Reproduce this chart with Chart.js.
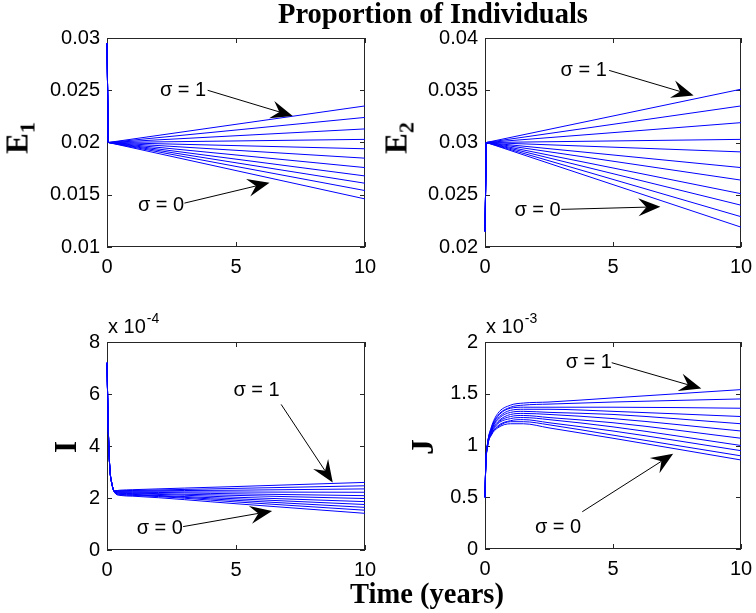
<!DOCTYPE html>
<html><head><meta charset="utf-8">
<script src="https://cdn.jsdelivr.net/npm/chart.js@4.4.1/dist/chart.umd.min.js"></script>
<style>
html,body{margin:0;padding:0;background:#fff;}
#fig{position:relative;width:756px;height:613px;overflow:hidden;background:#fff;}
canvas{position:absolute;}
.lbl{position:absolute;font-family:'Liberation Serif','Times New Roman',serif;font-weight:bold;font-size:28.5px;line-height:28px;color:#000;white-space:nowrap;transform:translateX(-50%);}
.ylab{position:absolute;font-family:'Liberation Serif','Times New Roman',serif;font-weight:bold;font-size:31px;line-height:31px;color:#000;transform:translate(-50%,-50%) rotate(-90deg);white-space:nowrap;}
.ylab sub{font-size:22px;vertical-align:-7px;line-height:0;}
</style></head><body>
<div id="fig">
<canvas id="cE1" width="378" height="290" style="left:0;top:0"></canvas>
<canvas id="cE2" width="378" height="290" style="left:378px;top:0"></canvas>
<canvas id="cI" width="378" height="323" style="left:0;top:290px"></canvas>
<canvas id="cJ" width="378" height="323" style="left:378px;top:290px"></canvas>
<div class="lbl" style="left:433px;top:0px">Proportion of Individuals</div>
<div class="lbl" style="left:427px;top:580px">Time (years)</div>
<div class="ylab" style="left:17px;top:138px">E<sub>1</sub></div>
<div class="ylab" style="left:396px;top:138px">E<sub>2</sub></div>
<div class="ylab" style="left:65px;top:447px">I</div>
<div class="ylab" style="left:422px;top:447px">J</div>
</div>
<script>
// ---------------- data ----------------
const sigmas = [0, 0.1, 0.2, 0.3, 0.4, 0.5, 0.6, 0.7, 0.8, 0.9, 1.0];
const xTicks = [0, 5, 10];

// E1 : times and one row per sigma (sigma = 0 ... 1)
const tE1 = [0, 0.05, 10];
const e1Values = [
  [0.0295, 0.0200, 0.0146],
  [0.0295, 0.0200, 0.0154],
  [0.0295, 0.0200, 0.0161],
  [0.0295, 0.0200, 0.0168],
  [0.0295, 0.0200, 0.0176],
  [0.0295, 0.0200, 0.0185],
  [0.0295, 0.0200, 0.0194],
  [0.0295, 0.0200, 0.0203],
  [0.0295, 0.0200, 0.0213],
  [0.0295, 0.0200, 0.0224],
  [0.0295, 0.0200, 0.0235]
];
const e1Ticks = [0.01, 0.015, 0.02, 0.025, 0.03];

// E2
const tE2 = [0, 0.05, 10];
const e2Values = [
  [0.0215, 0.0300, 0.0219],
  [0.0215, 0.0300, 0.0229],
  [0.0215, 0.0300, 0.0240],
  [0.0215, 0.0300, 0.0251],
  [0.0215, 0.0300, 0.0264],
  [0.0215, 0.0300, 0.0276],
  [0.0215, 0.0300, 0.0291],
  [0.0215, 0.0300, 0.0303],
  [0.0215, 0.0300, 0.0319],
  [0.0215, 0.0300, 0.0335],
  [0.0215, 0.0300, 0.0351]
];
const e2Ticks = [0.02, 0.025, 0.03, 0.035, 0.04];

// I (values in units of 1e-4)
const tI = [0, 0.05, 0.1, 0.2, 0.3, 0.5, 1, 5, 10];
const iValues = [
  [7.2, 4.7, 3.3, 2.5, 2.20, 2.10, 2.07, 1.78, 1.41],
  [7.2, 4.7, 3.3, 2.5, 2.21, 2.12, 2.10, 1.85, 1.53],
  [7.2, 4.7, 3.3, 2.5, 2.22, 2.14, 2.12, 1.91, 1.64],
  [7.2, 4.7, 3.3, 2.5, 2.22, 2.16, 2.14, 1.97, 1.75],
  [7.2, 4.7, 3.3, 2.5, 2.23, 2.18, 2.17, 2.03, 1.86],
  [7.2, 4.7, 3.3, 2.5, 2.24, 2.20, 2.19, 2.10, 1.98],
  [7.2, 4.7, 3.3, 2.5, 2.25, 2.22, 2.22, 2.16, 2.09],
  [7.2, 4.7, 3.3, 2.5, 2.25, 2.24, 2.24, 2.23, 2.22],
  [7.2, 4.7, 3.3, 2.5, 2.26, 2.26, 2.27, 2.30, 2.35],
  [7.2, 4.7, 3.3, 2.5, 2.27, 2.28, 2.29, 2.37, 2.47],
  [7.2, 4.7, 3.3, 2.5, 2.28, 2.30, 2.32, 2.44, 2.60]
];
const iTicks = [0, 2, 4, 6, 8];
const iExponent = '-4';

// J (values in units of 1e-3)
const tJ = [0, 0.03, 0.1, 0.25, 0.5, 1, 1.5, 2.5, 5, 10];
const jValues = [
  [0.50, 0.80, 0.99, 1.10, 1.17, 1.21, 1.21, 1.17, 1.07, 0.86],
  [0.50, 0.80, 0.99, 1.11, 1.18, 1.23, 1.23, 1.20, 1.10, 0.90],
  [0.50, 0.80, 1.00, 1.11, 1.19, 1.24, 1.25, 1.22, 1.14, 0.95],
  [0.50, 0.81, 1.00, 1.12, 1.21, 1.26, 1.27, 1.25, 1.18, 1.00],
  [0.50, 0.81, 1.00, 1.13, 1.22, 1.28, 1.29, 1.27, 1.22, 1.07],
  [0.50, 0.81, 1.01, 1.14, 1.23, 1.30, 1.31, 1.30, 1.26, 1.14],
  [0.50, 0.81, 1.01, 1.15, 1.25, 1.32, 1.33, 1.32, 1.30, 1.21],
  [0.50, 0.81, 1.01, 1.15, 1.26, 1.34, 1.35, 1.35, 1.33, 1.28],
  [0.50, 0.82, 1.02, 1.16, 1.28, 1.36, 1.37, 1.37, 1.37, 1.36],
  [0.50, 0.82, 1.02, 1.17, 1.29, 1.37, 1.39, 1.40, 1.42, 1.45],
  [0.50, 0.82, 1.02, 1.18, 1.31, 1.39, 1.41, 1.42, 1.46, 1.54]
];
const jTicks = [0, 0.5, 1, 1.5, 2];
const jExponent = '-3';

// annotations: label, text anchor (x,y), arrow from (x,y) to tip (x,y) in data units
const e1Notes = [
  {text:'σ = 1', tx:2.05, ty:0.0250, fx:3.9, fy:0.0250, px:7.2, py:0.02254},
  {text:'σ = 0', tx:1.2, ty:0.0140, fx:3.0, fy:0.0142, px:6.3, py:0.01615}
];
const e2Notes = [
  {text:'σ = 1', tx:2.95, ty:0.0369, fx:4.85, fy:0.0369, px:8.15, py:0.0345},
  {text:'σ = 0', tx:1.15, ty:0.0235, fx:2.98, fy:0.0236, px:6.85, py:0.02385}
];
const iNotes = [
  {text:'σ = 1', tx:4.9, ty:6.15, fx:6.75, fy:5.6, px:8.75, py:2.6},
  {text:'σ = 0', tx:1.15, ty:0.82, fx:2.95, fy:0.9, px:6.4, py:1.5}
];
const jNotes = [
  {text:'σ = 1', tx:3.15, ty:1.80, fx:4.95, fy:1.80, px:8.45, py:1.55},
  {text:'σ = 0', tx:1.95, ty:0.21, fx:3.8, fy:0.36, px:7.35, py:0.92}
];

// ---------------- drawing ----------------
const TICK_FONT = {family:"'Liberation Sans', Arial, sans-serif", size:20};

const matlabPlugin = {
  id: 'matlab',
  beforeDatasetsDraw(chart) {
    const ctx = chart.ctx, a = chart.chartArea;
    const xs = chart.scales.x, ys = chart.scales.y;
    ctx.save();
    ctx.strokeStyle = '#262626';
    ctx.lineWidth = 1;
    ctx.strokeRect(Math.round(a.left)+0.5, Math.round(a.top)+0.5, Math.round(a.right-a.left)-1, Math.round(a.bottom-a.top)-1);
    const L = 5;
    ctx.beginPath();
    xs.ticks.forEach(t => {
      const px = Math.round(xs.getPixelForValue(t.value)) + 0.5;
      ctx.moveTo(px, a.bottom); ctx.lineTo(px, a.bottom - L);
      ctx.moveTo(px, a.top); ctx.lineTo(px, a.top + L);
    });
    ys.ticks.forEach(t => {
      const py = Math.round(ys.getPixelForValue(t.value)) + 0.5;
      ctx.moveTo(a.left, py); ctx.lineTo(a.left + L, py);
      ctx.moveTo(a.right, py); ctx.lineTo(a.right - L, py);
    });
    ctx.stroke();
    ctx.restore();
  },
  afterDatasetsDraw(chart, args, opts) {
    const ctx = chart.ctx, a = chart.chartArea;
    const xs = chart.scales.x, ys = chart.scales.y;
    ctx.save();
    if (opts.exponent) {
      ctx.fillStyle = '#000';
      ctx.font = "20px 'Liberation Sans', Arial, sans-serif";
      ctx.textBaseline = 'alphabetic';
      ctx.textAlign = 'left';
      const base = 'x 10';
      ctx.fillText(base, a.left + 1, a.top - 9);
      const w = ctx.measureText(base).width;
      ctx.font = "14px 'Liberation Sans', Arial, sans-serif";
      ctx.fillText(opts.exponent, a.left + 1 + w + 1, a.top - 19);
    }
    (opts.notes || []).forEach(n => {
      ctx.fillStyle = '#000';
      ctx.strokeStyle = '#000';
      ctx.font = "20px 'Liberation Sans', Arial, sans-serif";
      ctx.textBaseline = 'middle';
      ctx.textAlign = 'left';
      ctx.fillText(n.text, xs.getPixelForValue(n.tx), ys.getPixelForValue(n.ty));
      const sx = xs.getPixelForValue(n.fx), sy = ys.getPixelForValue(n.fy);
      const tx = xs.getPixelForValue(n.px), ty = ys.getPixelForValue(n.py);
      const dx = tx - sx, dy = ty - sy, d = Math.hypot(dx, dy);
      const ux = dx / d, uy = dy / d, nx = -uy, ny = ux;
      const HL = 22, HW = 9, NOTCH = 14;
      const bx = tx - ux * HL, by = ty - uy * HL;
      const mx = tx - ux * NOTCH, my = ty - uy * NOTCH;
      ctx.lineWidth = 1;
      ctx.beginPath();
      ctx.moveTo(sx, sy); ctx.lineTo(mx, my);
      ctx.stroke();
      ctx.beginPath();
      ctx.moveTo(tx, ty);
      ctx.lineTo(bx + nx * HW, by + ny * HW);
      ctx.lineTo(mx, my);
      ctx.lineTo(bx - nx * HW, by - ny * HW);
      ctx.closePath();
      ctx.fill();
    });
    ctx.restore();
  }
};

function makeChart(id, times, rows, yMin, yMax, yTicks, pad, xHeight, notes, exponent, smooth) {
  const datasets = rows.map((row, k) => ({
    label: 'σ = ' + sigmas[k],
    data: row.map((v, i) => ({x: times[i], y: v})),
    borderColor: '#0000ff',
    borderWidth: 1,
    pointRadius: 0,
    fill: false,
    tension: 0,
    clip: {left: 2, top: 1, right: 0, bottom: 1},
    cubicInterpolationMode: smooth ? 'monotone' : 'default'
  }));
  return new Chart(document.getElementById(id), {
    type: 'line',
    data: {datasets},
    plugins: [matlabPlugin],
    options: {
      responsive: false,
      animation: false,
      devicePixelRatio: 1,
      layout: {padding: pad},
      plugins: {legend: {display: false}, tooltip: {enabled: false}, matlab: {notes, exponent}},
      scales: {
        x: {
          type: 'linear', min: 0, max: 10,
          grid: {display: false, drawTicks: false}, border: {display: false},
          ticks: {font: TICK_FONT, color: '#000', padding: 8, maxRotation: 0,
                  callback: v => String(v)},
          afterBuildTicks: s => { s.ticks = xTicks.map(v => ({value: v})); },
          afterFit: s => { s.height = xHeight; s.paddingLeft = 0; s.paddingRight = 0; }
        },
        y: {
          type: 'linear', min: yMin, max: yMax,
          grid: {display: false, drawTicks: false}, border: {display: false},
          ticks: {font: TICK_FONT, color: '#000', padding: 7,
                  callback: v => String(v)},
          afterBuildTicks: s => { s.ticks = yTicks.map(v => ({value: v})); },
          afterFit: s => { s.width = 107; s.paddingTop = 0; s.paddingBottom = 0; }
        }
      }
    }
  });
}

makeChart('cE1', tE1, e1Values, 0.01, 0.03, e1Ticks, {left:0, top:38, right:13, bottom:0}, 43, e1Notes, null, false);
makeChart('cE2', tE2, e2Values, 0.02, 0.04, e2Ticks, {left:0, top:38, right:15, bottom:0}, 43, e2Notes, null, false);
makeChart('cI', tI, iValues, 0, 8, iTicks, {left:0, top:52, right:13, bottom:0}, 63, iNotes, iExponent, true);
makeChart('cJ', tJ, jValues, 0, 2, jTicks, {left:0, top:52, right:15, bottom:0}, 64, jNotes, jExponent, true);
</script>
</body></html>
